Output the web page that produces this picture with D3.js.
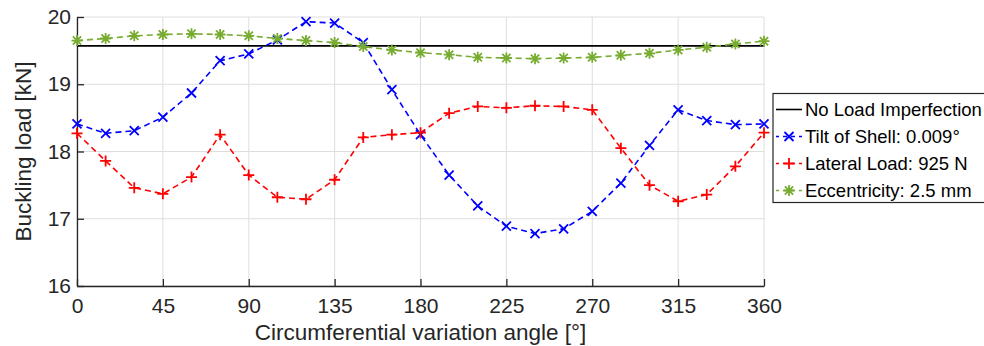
<!DOCTYPE html>
<html>
<head>
<meta charset="utf-8">
<script src="https://cdn.jsdelivr.net/npm/d3@7"></script>
<style>
  body { margin: 0; background: #fff; }
  svg { display: block; font-family: "Liberation Sans", Arial, Helvetica, sans-serif; }
</style>
</head>
<body>
<svg id="chart" width="984" height="346"></svg>
<script>
// circumferential angle, degrees
const angles = d3.range(0, 361, 15);
const xTicks = [0, 45, 90, 135, 180, 225, 270, 315, 360];
const yTicks = [16, 17, 18, 19, 20];

const noLoadValue = 19.57;
const tiltValues = [18.41, 18.27, 18.31, 18.51, 18.87, 19.35, 19.45, 19.66, 19.93, 19.91, 19.62, 18.92, 18.25,
  17.65, 17.19, 16.89, 16.78, 16.85, 17.11, 17.53, 18.09, 18.62, 18.46, 18.40, 18.41];
const lateralValues = [18.27, 17.86, 17.46, 17.37, 17.62, 18.25, 17.65, 17.32, 17.29, 17.58, 18.21, 18.25, 18.28,
  18.57, 18.67, 18.65, 18.68, 18.67, 18.62, 18.05, 17.50, 17.26, 17.36, 17.78, 18.28];
const eccValues = [19.65, 19.68, 19.72, 19.74, 19.75, 19.74, 19.72, 19.68, 19.65, 19.62, 19.56, 19.51, 19.47,
  19.44, 19.40, 19.39, 19.38, 19.39, 19.40, 19.43, 19.46, 19.51, 19.55, 19.60, 19.64];

const seriesNames = ['No Load Imperfection', 'Tilt of Shell: 0.009°', 'Lateral Load: 925 N', 'Eccentricity: 2.5 mm'];

const svg = d3.select('#chart');
const plotLeft = 77, plotRight = 764, plotTop = 17, plotBottom = 286;

const x = d3.scaleLinear().domain([0, 360]).range([plotLeft, plotRight]);
const y = d3.scaleLinear().domain([16, 20]).range([plotBottom, plotTop]);

// grid
svg.append('g').selectAll('line').data(xTicks).enter().append('line')
  .attr('x1', d => x(d)).attr('x2', d => x(d)).attr('y1', plotTop).attr('y2', plotBottom)
  .attr('stroke', '#dedede').attr('stroke-width', 1);
svg.append('g').selectAll('line').data(yTicks).enter().append('line')
  .attr('x1', plotLeft).attr('x2', plotRight).attr('y1', d => y(d)).attr('y2', d => y(d))
  .attr('stroke', '#dedede').attr('stroke-width', 1);

// axes (ticks inward)
const xAxis = svg.append('g').attr('transform', `translate(0,${plotBottom})`)
  .call(d3.axisBottom(x).tickValues(xTicks).tickSizeInner(-7).tickSizeOuter(0).tickPadding(12));
const yAxis = svg.append('g').attr('transform', `translate(${plotLeft},0)`)
  .call(d3.axisLeft(y).tickValues(yTicks).tickSizeInner(-7).tickSizeOuter(0).tickPadding(6).tickFormat(d3.format('d')));
[xAxis, yAxis].forEach(a => {
  a.select('.domain').attr('stroke', '#262626').attr('stroke-width', 1.3);
  a.selectAll('.tick line').attr('stroke', '#262626').attr('stroke-width', 1.3);
  a.selectAll('.tick text').attr('fill', '#262626').style('font-size', '21px');
});

// axis titles
svg.append('text').attr('x', (plotLeft + plotRight) / 2).attr('y', 340)
  .attr('text-anchor', 'middle').attr('fill', '#262626').style('font-size', '22.5px')
  .text('Circumferential variation angle [°]');
svg.append('text').attr('transform', `translate(31,${(plotTop + plotBottom) / 2}) rotate(-90)`)
  .attr('text-anchor', 'middle').attr('fill', '#262626').style('font-size', '22.5px')
  .text('Buckling load [kN]');

// marker shapes
function drawMarker(g, kind, cx, cy, color) {
  const r = kind === 'x' ? 4.5 : 5.5;
  let p = '';
  if (kind === 'x' || kind === '*') {
    const q = kind === 'x' ? r : r * 0.75;
    p += `M${cx - q},${cy - q}L${cx + q},${cy + q}M${cx - q},${cy + q}L${cx + q},${cy - q}`;
  }
  if (kind === '+' || kind === '*') {
    p += `M${cx - r},${cy}L${cx + r},${cy}M${cx},${cy - r}L${cx},${cy + r}`;
  }
  g.append('path').attr('d', p).attr('stroke', color).attr('stroke-width', 1.8).attr('fill', 'none');
}

const line = d3.line().x(d => x(d[0])).y(d => y(d[1]));

// no load reference
svg.append('line').attr('x1', x(0)).attr('x2', x(360)).attr('y1', y(noLoadValue)).attr('y2', y(noLoadValue))
  .attr('stroke', '#000').attr('stroke-width', 1.6);

const series = [
  { values: tiltValues, color: '#0000ff', marker: 'x' },
  { values: lateralValues, color: '#ff0000', marker: '+' },
  { values: eccValues, color: '#77ac30', marker: '*' }
];

series.forEach(s => {
  const pts = angles.map((a, i) => [a, s.values[i]]);
  svg.append('path').datum(pts).attr('d', line)
    .attr('fill', 'none').attr('stroke', s.color).attr('stroke-width', 1.6)
    .attr('stroke-dasharray', '6,4');
  const mg = svg.append('g');
  pts.forEach(p => drawMarker(mg, s.marker, x(p[0]), y(p[1]), s.color));
});

// legend
const lg = svg.append('g');
lg.append('rect').attr('x', 773).attr('y', 93.5).attr('width', 230).attr('height', 109)
  .attr('fill', '#fff').attr('stroke', '#262626').attr('stroke-width', 1.2);
const legendItems = [
  { color: '#000', marker: null, dash: null },
  { color: '#0000ff', marker: 'x', dash: '6,4' },
  { color: '#ff0000', marker: '+', dash: '6,4' },
  { color: '#77ac30', marker: '*', dash: '6,4' }
];
legendItems.forEach((it, i) => {
  const ly = 109.5 + i * 27;
  lg.append('line').attr('x1', 776).attr('x2', 802).attr('y1', ly).attr('y2', ly)
    .attr('stroke', it.color).attr('stroke-width', 1.6)
    .attr('stroke-dasharray', it.dash ? '4,4' : null)
    .attr('stroke-dashoffset', it.dash ? 1 : null);
  if (it.marker) drawMarker(lg, it.marker, 789, ly, it.color);
  lg.append('text').attr('x', 805).attr('y', ly).attr('dy', '0.35em')
    .attr('fill', '#000').style('font-size', '18.5px').text(seriesNames[i]);
});
</script>
</body>
</html>
